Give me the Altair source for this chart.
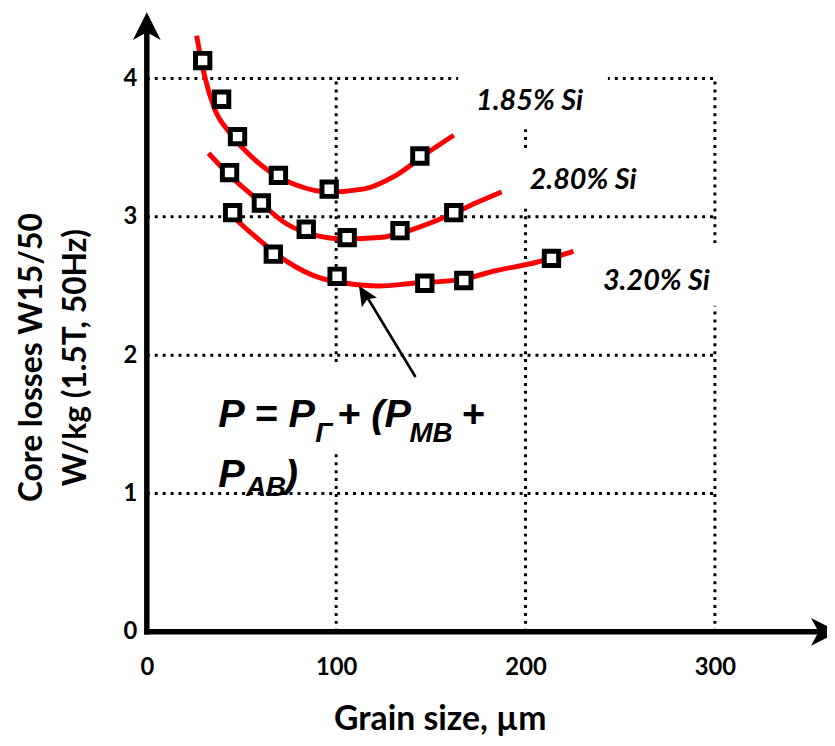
import altair as alt
import pandas as pd

# ---------------- data ----------------
# measured points (grain size in µm, core losses in W/kg)
si185_x = [29.5, 39.5, 47.9, 69.5, 96.3, 144.2]
si185_y = [4.13, 3.85, 3.58, 3.30, 3.20, 3.44]
si280_x = [43.7, 60.5, 84.2, 105.8, 133.7, 162.1]
si280_y = [3.32, 3.10, 2.91, 2.85, 2.90, 3.03]
si320_x = [45.3, 66.8, 100.5, 146.8, 167.4, 213.7]
si320_y = [3.03, 2.73, 2.57, 2.52, 2.54, 2.70]

# red fitted curves
fit185_x = [26.3, 30.5, 35.8, 43.7, 52.6, 64.7, 78.9, 96.3, 114.2, 131.6, 148.9, 162.1]
fit185_y = [4.31, 4.02, 3.78, 3.61, 3.47, 3.33, 3.23, 3.18, 3.20, 3.30, 3.47, 3.59]
fit280_x = [32.6, 43.7, 57.9, 73.7, 87.9, 105.3, 122.6, 140.5, 157.9, 173.7, 187.4]
fit280_y = [3.46, 3.30, 3.13, 2.95, 2.87, 2.84, 2.85, 2.91, 3.00, 3.10, 3.18]
fit320_x = [46.3, 57.9, 73.7, 91.1, 105.3, 122.6, 140.5, 166.8, 184.2, 205.3, 225.3]
fit320_y = [2.99, 2.85, 2.68, 2.56, 2.52, 2.50, 2.52, 2.55, 2.61, 2.67, 2.75]

series_names = ["1.85% Si", "2.80% Si", "3.20% Si"]
label_x = [202.1, 230.4, 269.1]
label_y = [3.771, 3.204, 2.473]

x_ticks = [0, 100, 200, 300]
y_ticks = [0, 1, 2, 3, 4]
grid_x = [100, 200, 300]
grid_y = [1, 2, 3, 4]

# formula annotation pieces
formula_main = ["P = P", "+ (P", "+", "P", ")"]
formula_main_x = [37.7, 100.5, 166.0, 37.7, 72.8]
formula_main_y = [1.484, 1.484, 1.484, 1.047, 1.047]
formula_sub = ["Г", "MB", "AB"]
formula_sub_x = [89.0, 138.7, 52.4]
formula_sub_y = [1.369, 1.369, 0.982]

# annotation arrow (tail -> tip)
arrow_tail = [141.9, 1.842]
arrow_end = [114.8, 2.455]
arrow_tip = [112.0, 2.502]

# white boxes behind text (text boxes hiding the grid)
box_x1 = [164.4, 194.8, 231.4, 32.5]
box_x2 = [243.5, 289.0, 307.3, 184.3]
box_y1 = [4.043, 3.484, 2.789, 1.950]
box_y2 = [3.634, 3.061, 2.358, 1.305]

X_DOMAIN = [0, 359.2]
Y_DOMAIN = [0, 4.4875]

X_TITLE = "Grain size, µm"
Y_TITLE = ["Core losses W15/50", "W/kg (1.5T, 50Hz)"]

# ---------------- tables ----------------
pts = pd.concat([
    pd.DataFrame({"x": si185_x, "y": si185_y, "s": series_names[0]}),
    pd.DataFrame({"x": si280_x, "y": si280_y, "s": series_names[1]}),
    pd.DataFrame({"x": si320_x, "y": si320_y, "s": series_names[2]}),
])
fits = pd.concat([
    pd.DataFrame({"x": fit185_x, "y": fit185_y, "s": series_names[0]}),
    pd.DataFrame({"x": fit280_x, "y": fit280_y, "s": series_names[1]}),
    pd.DataFrame({"x": fit320_x, "y": fit320_y, "s": series_names[2]}),
])
labels = pd.DataFrame({"t": series_names, "x": label_x, "y": label_y})
gh = pd.DataFrame({"y": grid_y, "x": 0, "x2": 300})
gv = pd.DataFrame({"x": grid_x, "y": 0, "y2": 4})
boxes = pd.DataFrame({"x": box_x1, "x2": box_x2, "y": box_y1, "y2": box_y2})
fmain = pd.DataFrame({"t": formula_main, "x": formula_main_x, "y": formula_main_y})
fsub = pd.DataFrame({"t": formula_sub, "x": formula_sub_x, "y": formula_sub_y})
arrow_line = pd.DataFrame({"x": [arrow_tail[0]], "y": [arrow_tail[1]],
                           "x2": [arrow_end[0]], "y2": [arrow_end[1]]})
arrow_head = pd.DataFrame({"x": [arrow_tip[0]], "y": [arrow_tip[1]]})
xaxis_line = pd.DataFrame({"x": [-1.5], "x2": [362.0], "y": [0.0]})
yaxis_line = pd.DataFrame({"x": [0.0], "y": [-0.02], "y2": [4.40]})
x_arrow = pd.DataFrame({"x": [365.4], "y": [0.0]})
y_arrow = pd.DataFrame({"x": [0.0], "y": [4.48]})

xs = alt.Scale(domain=X_DOMAIN, nice=False, zero=False)
ys = alt.Scale(domain=Y_DOMAIN, nice=False, zero=False)

LATO = "Lato"
ARIAL = "Liberation Sans"

x_axis = alt.Axis(
    values=x_ticks, format="d", title=X_TITLE,
    domain=False, ticks=False, grid=False,
    labelFont=LATO, labelFontSize=24, labelFontWeight="bold", labelColor="black",
    labelPadding=36, labelBaseline="middle", labelFlush=False, labelOverlap=False,
    titleFont=LATO, titleFontSize=34, titleFontWeight="bold", titleColor="black",
    titleX=295.5, titleY=99, titleBaseline="alphabetic", titleAlign="center",
)
y_axis = alt.Axis(
    values=y_ticks, format="d", title=Y_TITLE,
    domain=False, ticks=False, grid=False,
    labelFont=LATO, labelFontSize=24, labelFontWeight="bold", labelColor="black",
    labelPadding=10, labelFlush=False, labelOverlap=False,
    titleFont=LATO, titleFontSize=32, titleFontWeight="bold", titleColor="black",
    titleAngle=270, titleX=-116, titleY=349, titleAlign="center",
    titleBaseline="middle", titleLineHeight=44,
)


def X(field="x"):
    return alt.X(f"{field}:Q", scale=xs, axis=x_axis, title=X_TITLE)


def Y(field="y"):
    return alt.Y(f"{field}:Q", scale=ys, axis=y_axis, title=Y_TITLE)


DOTS = dict(strokeDash=[3, 5], strokeWidth=3, color="black")

grid_h = alt.Chart(gh).mark_rule(**DOTS).encode(x=X(), x2="x2:Q", y=Y())
grid_v = alt.Chart(gv).mark_rule(**DOTS).encode(x=X(), y=Y(), y2="y2:Q")
white_boxes = alt.Chart(boxes).mark_rect(color="white").encode(
    x=X(), x2="x2:Q", y=Y(), y2="y2:Q")
curves = alt.Chart(fits).mark_line(
    color="#ff0000", strokeWidth=5, interpolate="monotone"
).encode(x=X(), y=Y(), detail="s:N")
squares = alt.Chart(pts).mark_point(
    shape="square", size=210, filled=True, fill="white", stroke="black",
    strokeWidth=5, opacity=1,
).encode(x=X(), y=Y(), detail="s:N")
series_text = alt.Chart(labels).mark_text(
    font=LATO, fontSize=29, fontWeight="bold", fontStyle="italic",
    align="center", baseline="alphabetic", color="black",
).encode(x=X(), y=Y(), text="t:N")
formula_big = alt.Chart(fmain).mark_text(
    font=ARIAL, fontSize=40, fontWeight="bold", fontStyle="italic",
    align="left", baseline="alphabetic", color="black",
).encode(x=X(), y=Y(), text="t:N")
formula_small = alt.Chart(fsub).mark_text(
    font=ARIAL, fontSize=28, fontWeight="bold", fontStyle="italic",
    align="left", baseline="alphabetic", color="black",
).encode(x=X(), y=Y(), text="t:N")
arrow_rule = alt.Chart(arrow_line).mark_rule(color="black", strokeWidth=2.6).encode(
    x=X(), x2="x2:Q", y=Y(), y2="y2:Q")
arrow_tip_mark = alt.Chart(arrow_head).mark_point(
    shape="M0,0 L0.9,2 L0,1.6 L-0.9,2 Z", size=400, filled=True,
    color="black", opacity=1, angle=328,
).encode(x=X(), y=Y())
HEAD = "M0,0 L1,2 L0,1.45 L-1,2 Z"
x_line = alt.Chart(xaxis_line).mark_rule(color="black", strokeWidth=5.5).encode(
    x=X(), x2="x2:Q", y=Y())
y_line = alt.Chart(yaxis_line).mark_rule(color="black", strokeWidth=5.5).encode(
    x=X(), y=Y(), y2="y2:Q")
x_head = alt.Chart(x_arrow).mark_point(
    shape=HEAD, size=784, filled=True, color="black", opacity=1, angle=90,
).encode(x=X(), y=Y())
y_head = alt.Chart(y_arrow).mark_point(
    shape=HEAD, size=784, filled=True, color="black", opacity=1, angle=0,
).encode(x=X(), y=Y())

chart = alt.layer(
    grid_h, grid_v, white_boxes, curves, squares, series_text,
    formula_big, formula_small, arrow_rule, arrow_tip_mark,
    x_line, y_line, x_head, y_head,
).properties(
    width=686, height=626,
    padding={"left": 140, "top": 0, "right": 0, "bottom": 104},
    autosize=alt.AutoSizeParams(type="none"),
).configure(background="white").configure_view(stroke=None)

chart.save("out.html", embed_options={"renderer": "svg", "actions": False})
